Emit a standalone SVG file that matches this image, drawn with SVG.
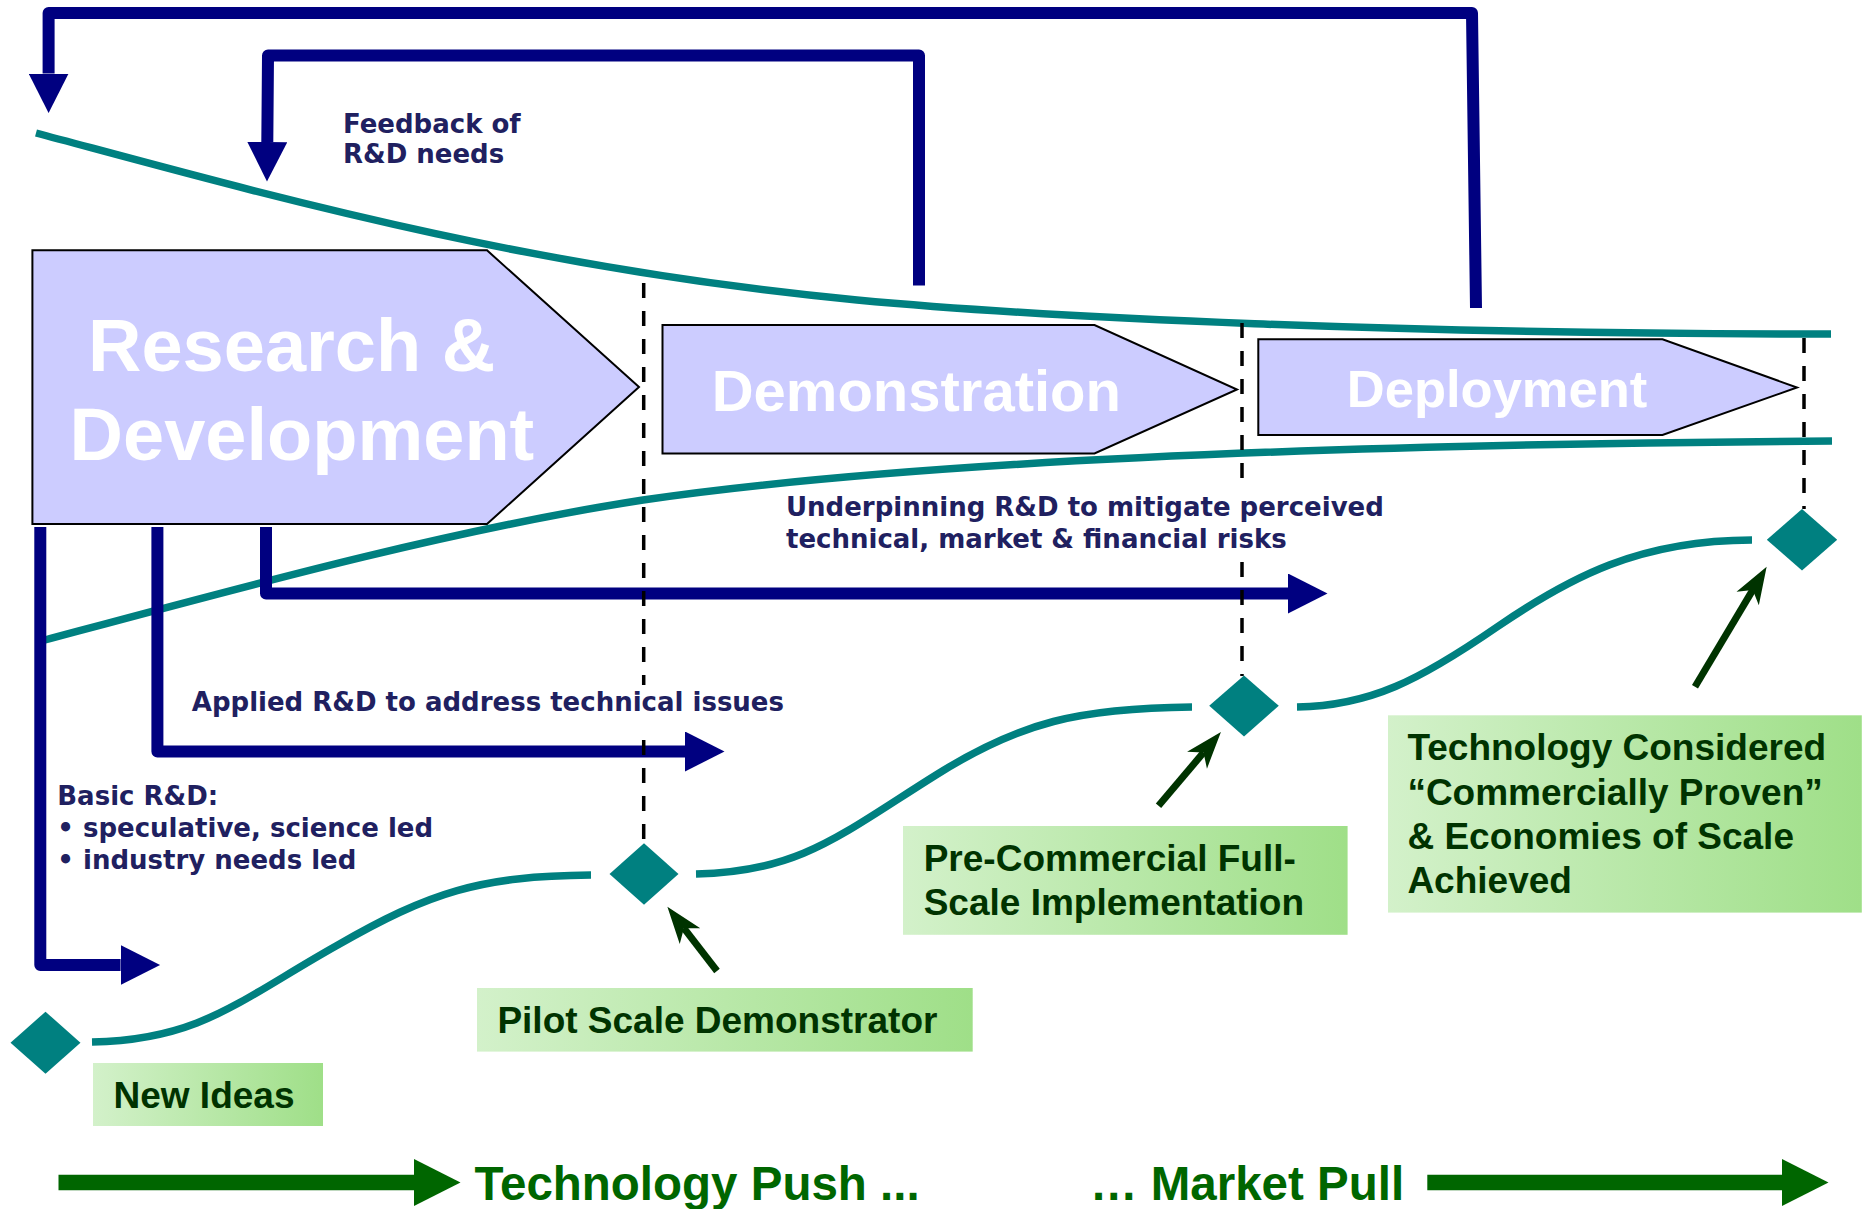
<svg xmlns="http://www.w3.org/2000/svg" width="1865" height="1209" viewBox="0 0 1865 1209">
<style>
.stage{fill:#CCCCFF;stroke:#000000;stroke-width:2;stroke-linejoin:miter}
.stagetxt{font-family:"Liberation Sans",Arial,sans-serif;font-weight:bold;fill:#FFFFFF}
.navy{fill:none;stroke:#000080;stroke-width:12;stroke-linejoin:round;stroke-linecap:butt}
.teal{fill:none;stroke:#008080;stroke-width:7.5;stroke-linecap:butt}
.dash{fill:none;stroke:#000000;stroke-width:3.5;stroke-dasharray:15 13}
.ptr{fill:none;stroke:#003300;stroke-width:7;stroke-linecap:butt}
.gshaft{fill:none;stroke:#006600;stroke-width:15.5;stroke-linecap:butt}
.diamond{fill:#008080}
.lbl{font-family:"DejaVu Sans",Verdana,sans-serif;font-weight:bold;font-size:26px;fill:#202060}
.boxtxt{font-family:"Liberation Sans",Arial,sans-serif;font-weight:bold;font-size:37px;fill:#003300}
.big{font-family:"Liberation Sans",Arial,sans-serif;font-weight:bold;font-size:47.5px;fill:#006600}
.gbox{fill:url(#boxGrad)}
</style>
<defs>
<linearGradient id="boxGrad" x1="0" y1="0" x2="1" y2="0">
<stop offset="0" stop-color="#d3f1ca"/>
<stop offset="1" stop-color="#9fdf88"/>
</linearGradient>
<marker id="navyHead" markerUnits="userSpaceOnUse" viewBox="0 -20 40 40" refX="0" refY="0" markerWidth="40" markerHeight="40" orient="auto">
<path d="M0,-20 L39.5,0 L0,20 z" fill="#000080"/>
</marker>
<marker id="ptrHead" markerUnits="userSpaceOnUse" viewBox="-40 -15 42 30" refX="-27" refY="0" markerWidth="42" markerHeight="30" orient="auto">
<path d="M0,0 L-37,-13 L-27,0 L-37,13 z" fill="#003300"/>
</marker>
<marker id="greenHead" markerUnits="userSpaceOnUse" viewBox="0 -24 48 48" refX="0" refY="0" markerWidth="48" markerHeight="48" orient="auto">
<path d="M0,-23.5 L46.5,0 L0,23.5 z" fill="#006600"/>
</marker>
</defs>
<rect x="0" y="0" width="1865" height="1209" fill="#FFFFFF"/>

<g id="connectors">
<!-- funnel boundary curves -->
<path class="teal" d="M36,133 C250,190 520,268 857,300 C1050,318 1400,334 1831,334"/>
<path class="teal" d="M45,640 C250,585 450,530 643,500 C850,470 1200,445 1832,441"/>
<!-- feedback arrows -->
<path class="navy" d="M1476,308 L1472,13 L48.6,13 L48.6,73.5" marker-end="url(#navyHead)"/>
<path class="navy" d="M919,285.5 L919,55.5 L268,55.5 L267.3,142" marker-end="url(#navyHead)"/>
<!-- R&D outputs -->
<path class="navy" d="M40.3,527 L40.3,965 L120.6,965" marker-end="url(#navyHead)"/>
<path class="navy" d="M157.4,527 L157.4,751.5 L685,751.5" marker-end="url(#navyHead)"/>
<path class="navy" d="M266,527 L266,593.5 L1288,593.5" marker-end="url(#navyHead)"/>
<!-- milestone dashed lines -->
<path class="dash" d="M643.7,283 L643.7,685 M643.7,740 L643.7,843.5"/>
<path class="dash" d="M1242,323 L1242,490 M1242,562 L1242,676"/>
<path class="dash" d="M1804,338 L1804,509"/>
<!-- S-curve -->
<path class="teal" d="M92,1042 C200,1040 240,1000 336,946 C430,892 480,876 591,875"/>
<path class="teal" d="M696,874 C800,872 840,835 936,775 C1020,722 1080,708 1192,707"/>
<path class="teal" d="M1297,707 C1370,706 1420,680 1497,627 C1570,577 1640,540 1752,540"/>
<!-- pointer arrows -->
<path class="ptr" d="M717,971 L683.9,928.2" marker-end="url(#ptrHead)"/>
<path class="ptr" d="M1158.5,805.8 L1203.5,752.6" marker-end="url(#ptrHead)"/>
<path class="ptr" d="M1695,686.7 L1752.8,589.9" marker-end="url(#ptrHead)"/>
<!-- push / pull arrows -->
<path class="gshaft" d="M58.5,1182.5 L414,1182.5" marker-end="url(#greenHead)"/>
<path class="gshaft" d="M1427.3,1182.5 L1782,1182.5" marker-end="url(#greenHead)"/>
</g>

<g id="rd">
<polygon class="stage" points="32.4,250.3 487,250.3 639,387 487,524 32.4,524"/>
<text class="stagetxt" x="88" y="370.5" font-size="74">Research &amp;</text>
<text class="stagetxt" x="69.6" y="459.5" font-size="74">Development</text>
</g>
<g id="demonstration">
<polygon class="stage" points="662.5,325 1094.5,325 1237,389.5 1094.5,453.5 662.5,453.5"/>
<text class="stagetxt" x="711.7" y="411" font-size="58">Demonstration</text>
</g>
<g id="deployment">
<polygon class="stage" points="1258.3,339.3 1662.5,339.3 1797,387.5 1662.5,435 1258.3,435"/>
<text class="stagetxt" x="1346.8" y="407" font-size="52.5">Deployment</text>
</g>

<g id="feedback-label">
<text class="lbl" x="343" y="132.5">Feedback of</text>
<text class="lbl" x="343" y="163">R&amp;D needs</text>
</g>
<g id="underpinning-label">
<text class="lbl" x="786" y="516">Underpinning R&amp;D to mitigate perceived</text>
<text class="lbl" x="786" y="547.6">technical, market &amp; financial risks</text>
</g>
<g id="applied-label">
<text class="lbl" x="191.8" y="710.7">Applied R&amp;D to address technical issues</text>
</g>
<g id="basic-label">
<text class="lbl" x="57.3" y="805">Basic R&amp;D:</text>
<text class="lbl" x="57.3" y="837">• speculative, science led</text>
<text class="lbl" x="57.3" y="869">• industry needs led</text>
</g>

<g id="milestone-new-ideas">
<polygon class="diamond" points="10.5,1042.7 45.5,1011.7 80.5,1042.7 45.5,1073.7"/>
</g>
<g id="milestone-pilot">
<polygon class="diamond" points="609.5,874 644,843.3 678.5,874 644,904.7"/>
</g>
<g id="milestone-precommercial">
<polygon class="diamond" points="1209.2,705.8 1244,675.5 1278.8,705.8 1244,736.5"/>
</g>
<g id="milestone-commercial">
<polygon class="diamond" points="1766.8,539.8 1802,509 1837.2,539.8 1802,570.6"/>
</g>

<g id="new-ideas">
<rect class="gbox" x="93" y="1063" width="230" height="63"/>
<text class="boxtxt" x="113.5" y="1108">New Ideas</text>
</g>
<g id="pilot">
<rect class="gbox" x="477" y="988" width="495.7" height="63.6"/>
<text class="boxtxt" x="497.4" y="1033">Pilot Scale Demonstrator</text>
</g>
<g id="pre-commercial">
<rect class="gbox" x="903" y="826" width="444.6" height="108.8"/>
<text class="boxtxt" x="923.7" y="870.7">Pre-Commercial Full-</text>
<text class="boxtxt" x="923.7" y="914.6">Scale Implementation</text>
</g>
<g id="commercial">
<rect class="gbox" x="1388" y="715.3" width="473.8" height="197.3"/>
<text class="boxtxt" x="1407.4" y="760.4">Technology Considered</text>
<text class="boxtxt" x="1407.4" y="804.7">“Commercially Proven”</text>
<text class="boxtxt" x="1407.4" y="848.5">&amp; Economies of Scale</text>
<text class="boxtxt" x="1407.4" y="893.2">Achieved</text>
</g>

<g id="push">
<text class="big" x="474.5" y="1200">Technology Push ...</text>
</g>
<g id="pull">
<text class="big" x="1090" y="1200">… Market Pull</text>
</g>
</svg>
